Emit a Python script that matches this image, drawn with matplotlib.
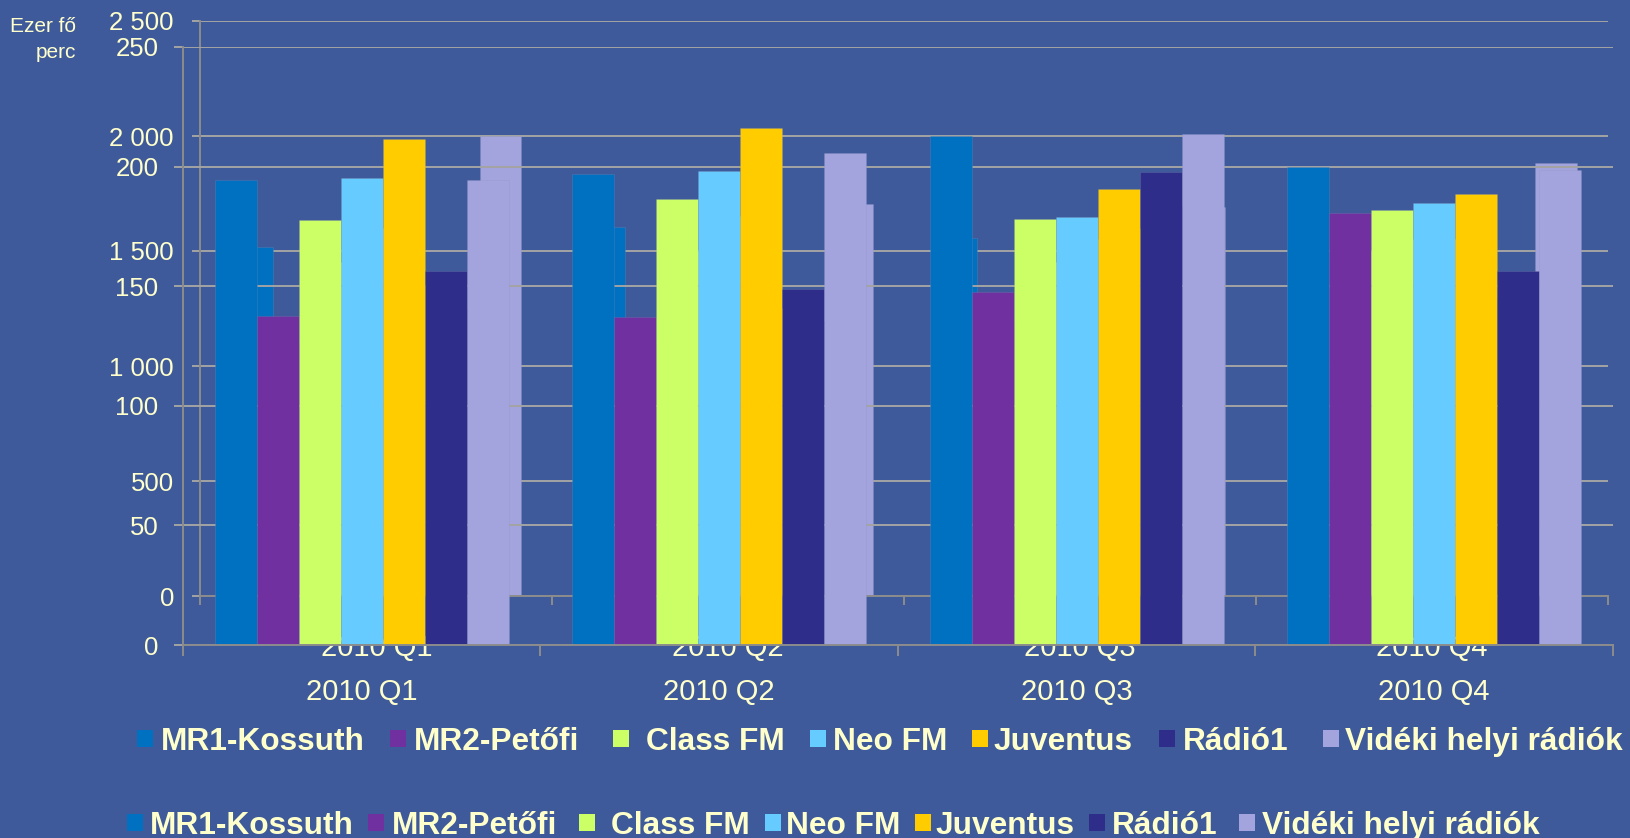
import matplotlib
matplotlib.use("Agg")
import matplotlib.pyplot as plt
from matplotlib.patches import Rectangle
from matplotlib.ticker import FuncFormatter

plt.rcParams["font.family"] = ["Liberation Sans", "DejaVu Sans"]

quarters = ["2010 Q1", "2010 Q2", "2010 Q3", "2010 Q4"]
stations = ["MR1-Kossuth", "MR2-Petőfi", "Class FM", "Neo FM",
            "Juventus", "Rádió1", "Vidéki helyi rádiók"]
colors = ["#0070C0", "#7030A0", "#CCFF66", "#66CCFF",
          "#FFCC00", "#2E2E8A", "#A3A3DE"]

# front chart (0-250 scale)
front_mr1 = [194.4, 197.0, 213.0, 199.8]
front_mr2 = [137.7, 137.0, 147.7, 180.6]
front_class = [177.8, 186.6, 178.0, 181.7]
front_neo = [195.4, 198.0, 179.0, 184.8]
front_juventus = [211.5, 216.0, 190.6, 188.4]
front_radio1 = [156.5, 149.0, 197.7, 156.5]
front_videki = [194.4, 205.6, 213.8, 198.6]

# chart behind it (0-2500 scale), mostly covered by the front bars
back_mr1 = [1517, 1603, 1558, 1500]
back_mr2 = [1100, 1100, 1200, 1450]
back_class = [1450, 1500, 1450, 1500]
back_neo = [1600, 1650, 1550, 1550]
back_juventus = [1350, 1250, 1600, 1550]
back_radio1 = [1250, 1200, 1700, 1300]
back_videki = [2000, 1704, 1690, 1883]

front = [front_mr1, front_mr2, front_class, front_neo,
         front_juventus, front_radio1, front_videki]
back = [back_mr1, back_mr2, back_class, back_neo,
        back_juventus, back_radio1, back_videki]

BG = "#3F5A9A"
TXT = "#FFFFCC"
GRID = "#A3A3A3"
SPINE = "#8C8C8C"
W, H = 1631, 838


def box(l, t, r, b):
    return [l / W, 1 - b / H, (r - l) / W, (b - t) / H]


def style(ax, top, yticks, fmt, ylen, ypad, xlen, xpad):
    ax.set_facecolor("none")
    ax.set_axisbelow(True)
    ax.set_xlim(-0.5, 3.5)
    ax.set_ylim(0, top)
    for s in ("top", "right"):
        ax.spines[s].set_visible(False)
    for s in ("left", "bottom"):
        ax.spines[s].set_color(SPINE)
        ax.spines[s].set_linewidth(1.4)
    ax.set_yticks(yticks)
    ax.yaxis.set_major_formatter(FuncFormatter(fmt))
    ax.yaxis.grid(True, color=GRID, lw=1.4)
    ax.tick_params(axis="y", length=ylen, width=1.4, color=GRID, pad=ypad,
                   labelsize=18.5, labelcolor=TXT)
    ax.set_xticks([-0.5, 0.5, 1.5, 2.5, 3.5])
    ax.set_xticklabels([])
    ax.set_xticks(range(len(quarters)), minor=True)
    ax.set_xticklabels(quarters, minor=True)
    ax.tick_params(axis="x", which="major", length=xlen, width=1.4, color=SPINE)
    ax.tick_params(axis="x", which="minor", length=0, pad=xpad,
                   labelsize=21, labelcolor=TXT)


fig = plt.figure(figsize=(W / 100, H / 100), dpi=100, facecolor=BG)
ax_b = fig.add_axes(box(200.5, 21, 1607.8, 596), zorder=1)
ax_a = fig.add_axes(box(183, 47, 1613, 645), zorder=2)

style(ax_b, 2500, range(0, 2501, 500),
      lambda v, p: f"{v:,.0f}".replace(",", " "), 6.1, 13, 6.5, 27.4)
style(ax_a, 250, range(0, 251, 50),
      lambda v, p: f"{v:.0f}", 6.3, 11.4, 8, 23.8)

w = 0.1175
for ax, series in ((ax_b, back), (ax_a, front)):
    for i, (vals, col) in enumerate(zip(series, colors)):
        ax.bar([g + (i - 3) * w for g in range(len(quarters))], vals, w,
               color=col, edgecolor=(0.55, 0.57, 0.72, 0.25), linewidth=0.6)

fig.text(76 / W, 1 - 27 / H, "Ezer fő", ha="right", va="center",
         fontsize=15, color=TXT)
fig.text(76 / W, 1 - 53 / H, "perc", ha="right", va="center",
         fontsize=15, color=TXT)

# two legend rows, as in the original slide
legend_rows = [
    (738.5, [137, 390, 613, 810, 972, 1159, 1323],
     [161, 414, 646, 833.5, 994, 1182.5, 1345]),
    (822.5, [127, 368, 579, 765, 915, 1089, 1239],
     [150, 392, 611, 786, 935.5, 1112, 1262]),
]
for yc, sq_x, tx_x in legend_rows:
    for name, col, sx, tx in zip(stations, colors, sq_x, tx_x):
        fig.add_artist(Rectangle((sx / W, 1 - (yc + 8.5) / H), 16 / W, 17 / H,
                                 transform=fig.transFigure, color=col, lw=0))
        fig.text(tx / W, 1 - yc / H, name, ha="left", va="center_baseline",
                 fontsize=22.8, fontweight="bold", color=TXT)

fig.savefig("out.png", dpi=100, facecolor=BG)
